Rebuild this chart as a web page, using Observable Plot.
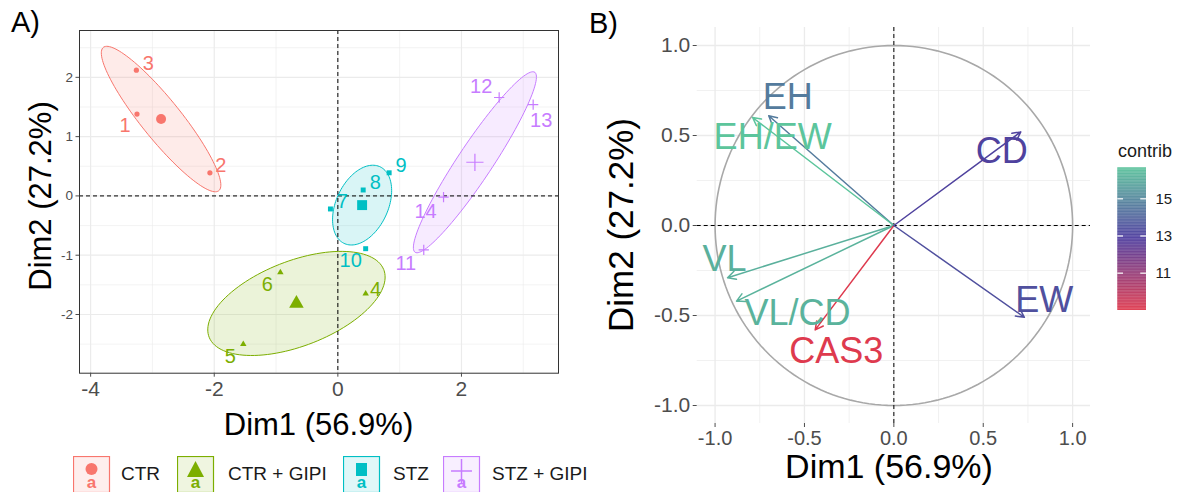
<!DOCTYPE html>
<html><head><meta charset="utf-8">
<script src="https://cdn.jsdelivr.net/npm/d3@7"></script>
<script src="https://cdn.jsdelivr.net/npm/@observablehq/plot@0.6"></script>
<style>
body{margin:0;background:#fff;font-family:"Liberation Sans",Arial,sans-serif;}
#root{position:relative;width:1183px;height:492px;overflow:hidden;background:#fff;}
.abs{position:absolute;white-space:nowrap;line-height:1;}
.abs svg, #root > svg{display:block;}
</style></head><body><div id="root"></div>
<script>
// ---------- Panel A data (individuals) ----------
const groups = ["CTR", "CTR + GIPI", "STZ", "STZ + GIPI"];
const indLabels = ["1","2","3","4","5","6","7","8","9","10","11","12","13","14"];
const indGroup = ["CTR","CTR","CTR","CTR + GIPI","CTR + GIPI","CTR + GIPI","STZ","STZ","STZ","STZ","STZ + GIPI","STZ + GIPI","STZ + GIPI","STZ + GIPI"];
const indDim1 = [-3.25, -2.07, -3.26, 0.45, -1.53, -0.93, -0.12, 0.41, 0.83, 0.45, 1.39, 2.61, 3.16, 1.71];
const indDim2 = [1.38, 0.39, 2.12, -1.65, -2.50, -1.29, -0.22, 0.10, 0.39, -0.89, -0.91, 1.66, 1.54, -0.02];
const xTicksA = [-4, -2, 0, 2];
const yTicksA = [-2, -1, 0, 1, 2];

// ---------- Panel B data (variables) ----------
const variables = ["EH", "EH/EW", "VL", "VL/CD", "CAS3", "CD", "EW"];
const varDim1 = [-0.70, -0.79, -0.93, -0.88, -0.44, 0.71, 0.73];
const varDim2 = [0.61, 0.60, -0.29, -0.42, -0.58, 0.52, -0.51];
const varContrib = [14.6, 16.7, 16.1, 16.2, 9.0, 13.0, 13.4];
const ticksB = [-1, -0.5, 0, 0.5, 1];
const contribTicks = [11, 13, 15];

// ---------- styles / layout (kept apart from data) ----------
const groupColors = ["#F8766D", "#7CAE00", "#00BFC4", "#C77CFF"];
const groupSymbols = ["circle", "triangle", "square", "plus"];
const smallR = [2.6, 2.4, 2.8, 3.4];
const bigR = [5, 5.4, 5.6, 5.6];
const indLabelDx = [-12, 11, 12, 10, -13, -13, 12, 12, 12, -15, -18, -18, 8, -18];
const indLabelDy = [11, -7, -7, -4, 12, 12, -7, -7, -7, 12, 14, -11, 16, 14];
const varLabelDx = [19, 20, -3, 61, 21, -19, 20];
const varLabelDy = [-18, 20, -18, 12, 22, 20, -17];
const FONT = "'Liberation Sans', Arial, sans-serif";
const colorSpec = {type: "linear", domain: [9.0, 12.85, 16.7], range: ["#DE3A4E", "#4E3D9E", "#5CC59C"]};

const root = document.getElementById("root");
function place(node, left, top) {
  const w = document.createElement("div");
  w.className = "abs"; w.style.left = left + "px"; w.style.top = top + "px";
  w.appendChild(node); root.appendChild(w); return w;
}
function label(text, x, y, size, opts = {}) {
  const d = document.createElement("div");
  d.className = "abs";
  d.textContent = text;
  d.style.fontSize = size + "px";
  d.style.fontFamily = opts.font || FONT;
  d.style.color = opts.color || "#000";
  d.style.left = x + "px"; d.style.top = y + "px";
  d.style.transform = opts.transform || "translate(-50%,-50%)";
  root.appendChild(d);
  return d;
}

// ---------- Panel A ----------
const ind = indLabels.map((lab, i) => ({label: lab, group: indGroup[i], d1: indDim1[i], d2: indDim2[i], dx: indLabelDx[i], dy: indLabelDy[i]}));
const CHI2_95 = -2 * Math.log(0.05);
function confEllipse(pts) {
  const n = pts.length;
  const mx = d3.mean(pts, p => p.d1), my = d3.mean(pts, p => p.d2);
  let sxx = 0, syy = 0, sxy = 0;
  for (const p of pts) { sxx += (p.d1 - mx) ** 2; syy += (p.d2 - my) ** 2; sxy += (p.d1 - mx) * (p.d2 - my); }
  sxx /= (n - 1) * n; syy /= (n - 1) * n; sxy /= (n - 1) * n;
  const tr = sxx + syy, det = sxx * syy - sxy * sxy;
  const disc = Math.sqrt(Math.max(0, tr * tr / 4 - det));
  const l1 = tr / 2 + disc, l2 = Math.max(0, tr / 2 - disc);
  const th = Math.abs(sxy) < 1e-12 ? (sxx >= syy ? 0 : Math.PI / 2) : Math.atan2(l1 - sxx, sxy);
  const k = Math.sqrt(CHI2_95);
  return d3.range(120).map(i => {
    const t = 2 * Math.PI * i / 120;
    const u = k * Math.sqrt(l1) * Math.cos(t), v = k * Math.sqrt(l2) * Math.sin(t);
    return {d1: mx + u * Math.cos(th) - v * Math.sin(th), d2: my + u * Math.sin(th) + v * Math.cos(th)};
  });
}
const marksA = [
  Plot.gridX([-3, -1, 1, 3], {stroke: "#EBEBEB", strokeOpacity: 1, strokeWidth: 0.6}),
  Plot.gridY([-2.5, -1.5, -0.5, 0.5, 1.5, 2.5], {stroke: "#EBEBEB", strokeOpacity: 1, strokeWidth: 0.6}),
  Plot.gridX(xTicksA, {stroke: "#EBEBEB", strokeOpacity: 1, strokeWidth: 1.2}),
  Plot.gridY(yTicksA, {stroke: "#EBEBEB", strokeOpacity: 1, strokeWidth: 1.2}),
];
groups.forEach((g, gi) => {
  const pts = ind.filter(d => d.group === g);
  marksA.push(Plot.line(confEllipse(pts), {x: "d1", y: "d2", curve: "linear-closed", stroke: groupColors[gi], fill: groupColors[gi], fillOpacity: 0.15, strokeWidth: 1}));
});
marksA.push(Plot.ruleX([0], {stroke: "#000", strokeDasharray: "4,3", strokeWidth: 1}));
marksA.push(Plot.ruleY([0], {stroke: "#000", strokeDasharray: "4,3", strokeWidth: 1}));
groups.forEach((g, gi) => {
  const pts = ind.filter(d => d.group === g);
  const isStroke = groupSymbols[gi] === "plus";
  const style = isStroke ? {stroke: groupColors[gi], strokeWidth: 1.2} : {fill: groupColors[gi], stroke: "none"};
  marksA.push(Plot.dot(pts, {x: "d1", y: "d2", symbol: groupSymbols[gi], r: smallR[gi], ...style}));
  const centroid = [{d1: d3.mean(pts, p => p.d1), d2: d3.mean(pts, p => p.d2)}];
  marksA.push(Plot.dot(centroid, {x: "d1", y: "d2", symbol: groupSymbols[gi], r: bigR[gi], ...style}));
  pts.forEach(p => marksA.push(Plot.text([p], {x: "d1", y: "d2", text: "label", dx: p.dx, dy: p.dy, fill: groupColors[gi], fontSize: 20})));
});
marksA.push(Plot.frame({stroke: "#333", strokeWidth: 1}));
marksA.push(Plot.axisX(xTicksA, {tickSize: 4, tickPadding: 4, fontSize: 21, color: "#4D4D4D", label: null, tickFormat: d => String(d)}));
marksA.push(Plot.axisY(yTicksA, {tickSize: 3.5, tickPadding: 3, fontSize: 13.5, color: "#4D4D4D", label: null, tickFormat: d => String(d)}));

const plotA = Plot.plot({
  width: 590, height: 445,
  marginLeft: 79, marginRight: 32, marginTop: 30, marginBottom: 72.3,
  x: {domain: [-4.18, 3.57], label: null},
  y: {domain: [-2.99, 2.79], label: null},
  style: {fontFamily: FONT, background: "transparent", overflow: "visible"},
  marks: marksA
});
place(plotA, 0, 0);

label("A)", 11, 8, 29, {transform: "none"});
label("Dim1 (56.9%)", 318.5, 424, 31);
label("Dim2 (27.2%)", 40, 196, 31, {transform: "translate(-50%,-50%) rotate(-90deg)"});

// Legend A
const legendX = [73, 177, 343, 443];
const legendTextX = [121, 228, 393, 492];
groups.forEach((g, gi) => {
  const c = groupColors[gi];
  const ns = "http://www.w3.org/2000/svg";
  const svg = d3.create("svg").attr("xmlns", ns).attr("width", 38).attr("height", 38);
  svg.append("rect").attr("x", 0.5).attr("y", 0.5).attr("width", 36).attr("height", 36)
    .attr("fill", c).attr("fill-opacity", 0.12).attr("stroke", c).attr("stroke-width", 1.2);
  const sym = groupSymbols[gi];
  if (sym === "circle") svg.append("circle").attr("cx", 18.5).attr("cy", 13).attr("r", 6).attr("fill", c);
  if (sym === "triangle") svg.append("path").attr("d", "M18.5,5 L27,21 L10,21 Z").attr("fill", c);
  if (sym === "square") svg.append("rect").attr("x", 13).attr("y", 7).attr("width", 11).attr("height", 13).attr("fill", c);
  svg.append("text").attr("x", 18.5).attr("y", 32).attr("text-anchor", "middle").attr("font-size", 17)
    .attr("font-family", FONT).attr("font-weight", "bold").attr("fill", c).text("a");
  if (sym === "plus") {
    svg.append("line").attr("x1", 8).attr("x2", 29).attr("y1", 15).attr("y2", 15).attr("stroke", c).attr("stroke-width", 1.5);
    svg.append("line").attr("x1", 18.5).attr("x2", 18.5).attr("y1", 3).attr("y2", 28).attr("stroke", c).attr("stroke-width", 1.5);
  }
  place(svg.node(), legendX[gi], 456);
  label(g, legendTextX[gi], 473, 19, {transform: "translate(0,-50%)", color: "#1a1a1a"});
});

// ---------- Panel B ----------
const vars = variables.map((v, i) => ({name: v, d1: varDim1[i], d2: varDim2[i], contrib: varContrib[i], dx: varLabelDx[i], dy: varLabelDy[i]}));
const circle = d3.range(0, 361, 2).map(a => ({d1: Math.cos(a * Math.PI / 180), d2: Math.sin(a * Math.PI / 180)}));
const marksB = [
  Plot.gridX([-0.75, -0.25, 0.25, 0.75], {stroke: "#EBEBEB", strokeOpacity: 1, strokeWidth: 0.7}),
  Plot.gridY([-0.75, -0.25, 0.25, 0.75], {stroke: "#EBEBEB", strokeOpacity: 1, strokeWidth: 0.7}),
  Plot.gridX(ticksB, {stroke: "#EBEBEB", strokeOpacity: 1, strokeWidth: 1.3}),
  Plot.gridY(ticksB, {stroke: "#EBEBEB", strokeOpacity: 1, strokeWidth: 1.3}),
  Plot.line(circle, {x: "d1", y: "d2", stroke: "#A8A8A8", strokeWidth: 1.6}),
  Plot.ruleX([0], {stroke: "#000", strokeDasharray: "4,3", strokeWidth: 1}),
  Plot.ruleY([0], {stroke: "#000", strokeDasharray: "4,3", strokeWidth: 1}),
  Plot.arrow(vars, {x1: 0, y1: 0, x2: "d1", y2: "d2", stroke: "contrib", strokeWidth: 1.5, headLength: 9, headAngle: 55})
];
vars.forEach(v => marksB.push(Plot.text([v], {x: "d1", y: "d2", text: "name", fill: "contrib", dx: v.dx, dy: v.dy, fontSize: 36})));
marksB.push(Plot.axisX(ticksB, {tickSize: 4, tickPadding: 3, fontSize: 20, color: "#4D4D4D", label: null, tickFormat: d => d.toFixed(1)}));
marksB.push(Plot.axisY(ticksB, {tickSize: 4, tickPadding: 3, fontSize: 21, color: "#4D4D4D", label: null, tickFormat: d => d.toFixed(1)}));
const plotB = Plot.plot({
  width: 500, height: 492,
  marginLeft: 96.7, marginRight: 10, marginTop: 27, marginBottom: 69,
  x: {domain: [-1.1, 1.1], label: null},
  y: {domain: [-1.1, 1.1], label: null},
  color: colorSpec,
  style: {fontFamily: FONT, background: "transparent", overflow: "visible"},
  marks: marksB
});
place(plotB, 600, 0);

label("B)", 589, 9, 29, {transform: "none"});
label("Dim1 (56.9%)", 889, 466, 34);
label("Dim2 (27.2%)", 620, 225, 35, {transform: "translate(-50%,-50%) rotate(-90deg)"});

// contrib colour bar
const legendVals = d3.range(8.99, 16.67, 0.04);
const legB = Plot.plot({
  width: 83, height: 160,
  marginLeft: 17.3, marginRight: 37, marginTop: 7.3, marginBottom: 10,
  x: {domain: [0, 1], axis: null},
  y: {domain: [8.99, 16.67], axis: null},
  color: colorSpec,
  style: {fontFamily: FONT, background: "transparent", overflow: "visible"},
  marks: [
    Plot.rect(legendVals, {x1: 0, x2: 1, y1: d => d, y2: d => Math.min(16.67, d + 0.05), fill: d => d}),
    Plot.ruleY(contribTicks, {x1: 0, x2: 0.2, stroke: "white", strokeWidth: 1.2}),
    Plot.ruleY(contribTicks, {x1: 0.8, x2: 1, stroke: "white", strokeWidth: 1.2}),
    Plot.axisY(contribTicks, {anchor: "right", tickSize: 0, tickPadding: 9, fontSize: 15, color: "#1a1a1a", label: null})
  ]
});
place(legB, 1100, 160);
label("contrib", 1118, 151, 18, {transform: "translate(0,-50%)", color: "#1a1a1a"});
</script></body></html>
